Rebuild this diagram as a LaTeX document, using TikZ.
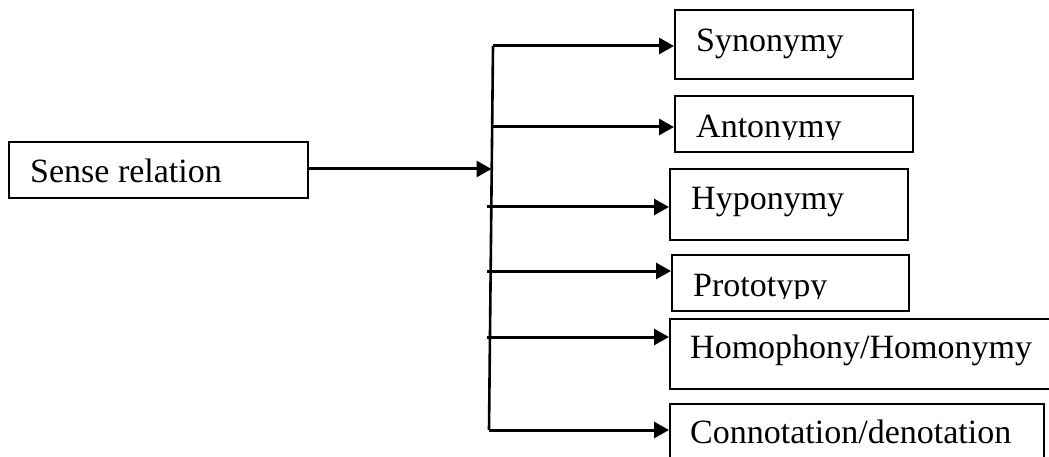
\documentclass[tikz,border=0pt]{standalone}
\usepackage{fontspec}
\setmainfont{Liberation Serif}
\usetikzlibrary{arrows.meta}
\begin{document}
\begin{tikzpicture}[x=1pt,y=-1pt,
  box/.style={draw=black,line width=2.4pt,inner sep=0pt,anchor=north west},
  lbl/.style={inner sep=0pt,anchor=base west,font=\fontsize{34}{40}\selectfont},
  arr/.style={line width=3pt,-{Triangle[length=15pt,width=16pt]}},
  trunkline/.style={line width=2.6pt}]
\clip (0,0) rectangle (1049,457);
\fill[white] (0,0) rectangle (1049,457);
% boxes
\node[box,minimum width=299pt,minimum height=56pt] (sense) at (8,141) {};
\node[box,minimum width=238pt,minimum height=69pt] (syn) at (674,9) {};
\node[box,minimum width=238pt,minimum height=56pt] (ant) at (674,95) {};
\node[box,minimum width=238pt,minimum height=71pt] (hyp) at (669,168) {};
\node[box,minimum width=237pt,minimum height=56pt] (pro) at (671,254) {};
\node[box,minimum width=400pt,minimum height=70pt] (hom) at (669,318) {};
\node[box,minimum width=374pt,minimum height=80pt] (con) at (669,403) {};
% labels
\node[lbl] (tsense) at (30,183) {Sense relation};
\node[lbl] (tsyn) at (696,52) {Synonymy};
\begin{scope}
  \clip (674,95) rectangle (912,139.5);
  \node[lbl] (tant) at (696,138) {Antonymy};
\end{scope}
\node[lbl] (thyp) at (691,210) {Hyponymy};
\begin{scope}
  \clip (671,254) rectangle (908,298.5);
  \node[lbl] (tpro) at (693,296) {Prototypy};
\end{scope}
\node[lbl] (thom) at (690,358) {Homophony/Homonymy};
\node[lbl] (tcon) at (690,443) {Connotation/denotation};
% trunk
\coordinate (ttop) at (493,46);
\coordinate (tbot) at (489,430);
\coordinate (tin) at (491.5,169);
\coordinate (b1) at (493,46);
\coordinate (b2) at (492,127);
\coordinate (b3) at (487,207);
\coordinate (b4) at (487,271);
\coordinate (b5) at (487,337);
\coordinate (b6) at (489,430);
\draw[trunkline] (ttop) -- (tbot);
% connectors
\draw[arr] (sense.east |- tin) -- (tin);
\draw[arr] (b1) -- (b1 -| syn.west);
\draw[arr] (b2) -- (b2 -| ant.west);
\draw[arr] (b3) -- (b3 -| hyp.west);
\draw[arr] (b4) -- (b4 -| pro.west);
\draw[arr] (b5) -- (b5 -| hom.west);
\draw[arr] (b6) -- (b6 -| con.west);
\end{tikzpicture}
\end{document}
